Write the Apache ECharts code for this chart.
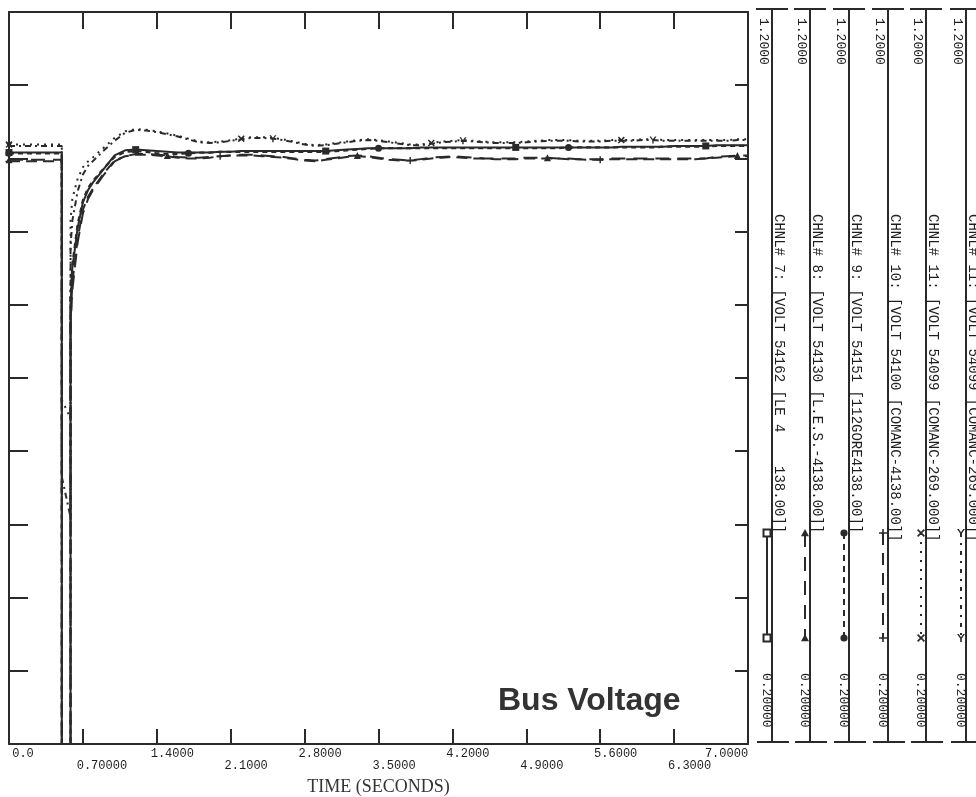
<!DOCTYPE html>
<html><head><meta charset="utf-8">
<script src="https://cdn.jsdelivr.net/npm/echarts/dist/echarts.min.js"></script>
<style>html,body{margin:0;padding:0;background:#fff;}#c{width:976px;height:797px;}</style>
</head><body><div id="c"></div>
<script>
// ---------------- DATA ----------------
const time = [0, 0.5, 0.5, 0.583, 0.583, 0.6, 0.65, 0.7, 0.75, 0.8, 0.9,
  1.0,1.1,1.2,1.3,1.4,1.5,1.6,1.7,1.8,1.9,
  2.0,2.1,2.2,2.3,2.4,2.5,2.6,2.7,2.8,2.9,
  3.0,3.1,3.2,3.3,3.4,3.5,3.6,3.7,3.8,3.9,
  4.0,4.1,4.2,4.3,4.4,4.5,4.6,4.7,4.8,4.9,
  5.0,5.1,5.2,5.3,5.4,5.5,5.6,5.7,5.8,5.9,
  6.0,6.1,6.2,6.3,6.4,6.5,6.6,6.7,6.8,6.9,
  7.0];

const ch7 = [1.008,1.008,0.05,0.05,0.80,0.85,0.905,0.94,0.957,0.968,0.986,
  1.004,1.011,1.012,1.011,1.010,1.009,1.008,1.008,1.008,1.008,
  1.009,1.009,1.010,1.010,1.010,1.010,1.010,1.010,1.010,1.010,
  1.010,1.011,1.012,1.013,1.014,1.014,1.014,1.014,1.014,1.015,
  1.015,1.015,1.015,1.015,1.015,1.015,1.015,1.015,1.015,1.015,
  1.015,1.015,1.015,1.015,1.015,1.015,1.015,1.015,1.016,1.016,
  1.016,1.016,1.016,1.017,1.017,1.017,1.017,1.018,1.018,1.018,
  1.018];

const ch8 = [0.998,0.998,0.05,0.05,0.77,0.82,0.885,0.925,0.945,0.958,0.978,
  0.996,1.003,1.006,1.006,1.005,1.004,1.002,1.001,1.001,1.002,
  1.003,1.004,1.005,1.005,1.004,1.003,1.002,1.000,0.998,0.997,
  0.999,1.001,1.003,1.004,1.003,1.001,0.999,0.998,0.997,0.999,
  1.001,1.002,1.003,1.002,1.001,1.000,1.000,1.000,1.000,1.001,
  1.001,1.001,1.000,1.000,0.999,0.999,0.999,1.000,1.000,1.000,
  1.000,1.000,1.000,1.000,1.000,1.000,1.000,1.002,1.003,1.004,
  1.004];

const ch9 = [1.007,1.007,0.05,0.05,0.81,0.855,0.91,0.943,0.96,0.97,0.987,
  1.002,1.009,1.010,1.009,1.007,1.006,1.006,1.007,1.008,1.008,
  1.009,1.009,1.009,1.009,1.009,1.009,1.009,1.009,1.009,1.009,
  1.009,1.010,1.011,1.012,1.013,1.014,1.014,1.014,1.014,1.014,
  1.014,1.014,1.014,1.014,1.014,1.014,1.014,1.014,1.014,1.014,
  1.014,1.014,1.014,1.015,1.015,1.015,1.015,1.015,1.015,1.015,
  1.015,1.015,1.016,1.016,1.016,1.016,1.016,1.017,1.017,1.017,
  1.017];

const ch10 = [0.996,0.996,0.05,0.05,0.78,0.83,0.89,0.93,0.948,0.96,0.98,
  0.997,1.003,1.005,1.005,1.004,1.003,1.001,1.000,1.000,1.001,
  1.003,1.004,1.004,1.004,1.003,1.002,1.001,0.999,0.997,0.996,
  0.998,1.000,1.002,1.003,1.002,1.000,0.998,0.997,0.997,0.998,
  1.000,1.001,1.002,1.001,1.000,1.000,0.999,0.999,0.999,1.000,
  1.000,1.000,1.000,0.999,0.999,0.998,0.998,0.999,0.999,0.999,
  0.999,0.999,0.999,0.999,0.999,0.999,1.000,1.001,1.002,1.003,
  1.003];

const ch11 = [1.019,1.019,0.670,0.645,0.915,0.945,0.972,0.988,0.996,1.002,1.015,
  1.028,1.037,1.040,1.039,1.037,1.034,1.031,1.027,1.023,1.022,
  1.023,1.025,1.027,1.029,1.029,1.028,1.026,1.023,1.020,1.018,
  1.019,1.021,1.023,1.025,1.026,1.025,1.023,1.021,1.019,1.019,
  1.021,1.023,1.024,1.025,1.024,1.023,1.022,1.022,1.022,1.023,
  1.024,1.025,1.025,1.025,1.024,1.024,1.024,1.025,1.025,1.025,
  1.026,1.026,1.025,1.025,1.025,1.025,1.025,1.025,1.025,1.026,
  1.026];

const ch12 = [1.017,1.017,0.565,0.510,0.880,0.915,0.955,0.978,0.990,0.997,1.011,
  1.024,1.035,1.039,1.038,1.036,1.033,1.030,1.026,1.022,1.021,
  1.022,1.024,1.026,1.028,1.028,1.027,1.025,1.022,1.019,1.017,
  1.018,1.020,1.022,1.024,1.025,1.024,1.022,1.020,1.018,1.018,
  1.020,1.022,1.023,1.024,1.023,1.022,1.021,1.021,1.021,1.022,
  1.023,1.024,1.024,1.024,1.023,1.023,1.023,1.024,1.024,1.024,
  1.025,1.025,1.024,1.024,1.024,1.024,1.024,1.024,1.024,1.025,
  1.025];

// times at which each channel's plot marker is drawn
const marks7  = [0, 1.2, 3.0, 4.8, 6.6];
const marks8  = [0, 1.5, 3.3, 5.1, 6.9];
const marks9  = [0, 1.7, 3.5, 5.3];
const marks10 = [0, 2.0, 3.8, 5.6];
const marks11 = [0, 2.2, 4.0, 5.8];
const marks12 = [0, 2.5, 4.3, 6.1];

const channelLabels = [
  'CHNL# 7: [VOLT 54162 [LE 4    138.00]]',
  'CHNL# 8: [VOLT 54130 [L.E.S.-4138.00]]',
  'CHNL# 9: [VOLT 54151 [112GORE4138.00]]',
  'CHNL# 10: [VOLT 54100 [COMANC-4138.00]]',
  'CHNL# 11: [VOLT 54099 [COMANC-269.000]]',
  'CHNL# 11: [VOLT 54099 [COMANC-269.000]]'
];
const xTickLabels = ['0.0','0.70000','1.4000','2.1000','2.8000','3.5000','4.2000','4.9000','5.6000','6.3000','7.0000'];
const panelTop = '1.2000';
const panelBottom = '0.20000';
const xName = 'TIME (SECONDS)';
const chartTitle = 'Bus Voltage';

// ---------------- STYLE ----------------
const C = '#2a2a2a';
const PLUS_PTS  = [[4,0],[6,0],[6,4],[10,4],[10,6],[6,6],[6,10],[4,10],[4,6],[0,6],[0,4],[4,4]];
const CROSS_PTS = [[0,1.5],[1.5,0],[5,3.5],[8.5,0],[10,1.5],[6.5,5],[10,8.5],[8.5,10],[5,6.5],[1.5,10],[0,8.5],[3.5,5]];
const Y_PTS     = [[0,0],[2.2,0],[5,4],[7.8,0],[10,0],[6,5.6],[6,10],[4,10],[4,5.6]];
const TRI_PTS   = [[5,0],[10,9],[0,9]];
const toPath = pts => 'path://M' + pts.map(p => p.join(',')).join(' L') + ' Z';

const defs = [
  {vals: ch7,  marks: marks7,  sym: 'rect',     pts: null,      dash: 'solid',        legDash: null,         width: 2},
  {vals: ch8,  marks: marks8,  sym: 'triangle', pts: TRI_PTS,   dash: [14, 8],        legDash: [14, 10],     width: 2},
  {vals: ch9,  marks: marks9,  sym: 'circle',   pts: null,      dash: [5, 4],         legDash: [6, 5],       width: 2.2},
  {vals: ch10, marks: marks10, sym: toPath(PLUS_PTS),  pts: PLUS_PTS,  dash: [11, 6], legDash: [12, 8],      width: 2},
  {vals: ch11, marks: marks11, sym: toPath(CROSS_PTS), pts: CROSS_PTS, dash: [2, 5],  legDash: [2, 7],       width: 2},
  {vals: ch12, marks: marks12, sym: toPath(Y_PTS),     pts: Y_PTS,     dash: [6, 4, 2, 4], legDash: [4, 6, 2, 6], width: 2}
];

const series = defs.map((d, k) => ({
  type: 'line',
  xAxisIndex: 0, yAxisIndex: 0,
  symbol: d.sym,
  symbolSize: 7,
  showSymbol: true,
  showAllSymbol: true,
  clip: true,
  animation: false,
  silent: true,
  z: 3 + k,
  lineStyle: {color: C, width: d.width, type: d.dash},
  itemStyle: {color: C, borderWidth: 0},
  data: time.map((t, i) => ({
    value: [t, d.vals[i]],
    symbol: (i === 0 || (i > 10 && d.marks.some(m => Math.abs(m - t) < 1e-6))) ? d.sym : 'none'
  }))
}));

// ---------------- SIDE PANELS (channel legend) ----------------
const panelX = [772, 810, 849, 888, 926, 966];
const FONT_LBL = '14px "Liberation Mono"';
const FONT_NUM = '13px "Liberation Mono"';
const graphic = [];
function rtext(x, y, txt, font) {
  graphic.push({type: 'text', x: x, y: y, rotation: -Math.PI / 2, silent: true,
    style: {text: txt, font: font, fill: '#1e1e1e', textAlign: 'left', align: 'left',
            textVerticalAlign: 'middle', verticalAlign: 'middle'}});
}
function marker(d, cx, cy) {
  const s = {fill: C};
  if (d.sym === 'rect') graphic.push({type: 'rect', shape: {x: cx - 3.5, y: cy - 3.5, width: 7, height: 7}, style: {fill: '#fff', stroke: C, lineWidth: 2}});
  else if (d.sym === 'circle') graphic.push({type: 'circle', shape: {cx: cx, cy: cy, r: 3.6}, style: s});
  else graphic.push({type: 'polygon', shape: {points: d.pts.map(p => [cx - 4 + p[0] * 0.8, cy - 4 + p[1] * 0.8])}, style: s});
}
panelX.forEach((ax, i) => {
  const d = defs[i];
  graphic.push({type: 'line', shape: {x1: ax, y1: 9, x2: ax, y2: 742}, style: {stroke: C, lineWidth: 2}});
  graphic.push({type: 'line', shape: {x1: ax - 16, y1: 9, x2: ax + 16, y2: 9}, style: {stroke: C, lineWidth: 2}});
  graphic.push({type: 'line', shape: {x1: ax - 15, y1: 742, x2: ax + 17, y2: 742}, style: {stroke: C, lineWidth: 2}});
  rtext(ax - 9, 18, panelTop, FONT_NUM);
  rtext(ax - 6, 673, panelBottom, FONT_NUM);
  rtext(ax + 7, 214, channelLabels[i], FONT_LBL);
  const ls = {stroke: C, lineWidth: 2};
  if (d.legDash) ls.lineDash = d.legDash;
  graphic.push({type: 'line', shape: {x1: ax - 5, y1: 533, x2: ax - 5, y2: 638}, style: ls});
  marker(d, ax - 5, 533);
  marker(d, ax - 5, 638);
});

// ---------------- CHART ----------------
const base = {fontFamily: 'Liberation Mono', fontSize: 12, color: '#1e1e1e'};
const option = {
  backgroundColor: '#fff',
  animation: false,
  title: {text: chartTitle, left: 493, top: 680,
    textStyle: {fontFamily: 'Liberation Sans', fontWeight: 'bold', fontSize: 32, color: '#333'}},
  grid: {left: 9, top: 12, width: 739, height: 732, containLabel: false, outerBoundsMode: 'none'},
  xAxis: [{
    type: 'value', min: 0, max: 7, interval: 0.7, position: 'bottom',
    axisLine: {show: true, onZero: false, lineStyle: {color: C, width: 2}},
    axisTick: {show: true, inside: true, length: 15, lineStyle: {color: C, width: 2}},
    splitLine: {show: false},
    axisLabel: {
      show: true, margin: 4, interval: 0, showMinLabel: true, showMaxLabel: true, hideOverlap: false,
      formatter: (v) => {
        const i = Math.round(v / 0.7);
        const s = xTickLabels[i];
        if (i === 0) return '{z|' + s + '}';
        if (i === xTickLabels.length - 1) return '{e|' + s + '}';
        if (i % 2 === 0) return '{a|' + s + '}';
        return (s.length > 6 ? '{c|' : '{b|') + s + '}';
      },
      rich: {
        z: Object.assign({}, base, {padding: [0, 0, 0, 28]}),
        a: Object.assign({}, base, {padding: [0, 0, 0, 31]}),
        b: Object.assign({}, base, {padding: [12, 0, 0, 31]}),
        c: Object.assign({}, base, {padding: [12, 0, 0, 38]}),
        e: Object.assign({}, base, {padding: [0, 43, 0, 0]})
      }
    },
    name: xName, nameLocation: 'middle', nameGap: 34,
    nameTextStyle: {fontFamily: 'Liberation Serif', fontSize: 18, color: '#333'}
  }, {
    type: 'value', min: 0, max: 7, interval: 0.7, position: 'top',
    axisLine: {show: true, onZero: false, lineStyle: {color: C, width: 2}},
    axisTick: {show: true, inside: true, length: 17, lineStyle: {color: C, width: 2}},
    axisLabel: {show: false}, splitLine: {show: false}
  }],
  yAxis: [{
    type: 'value', min: 0.2, max: 1.2, interval: 0.1, position: 'left',
    axisLine: {show: true, onZero: false, lineStyle: {color: C, width: 2}},
    axisTick: {show: true, inside: true, length: 19, lineStyle: {color: C, width: 2}},
    axisLabel: {show: false}, splitLine: {show: false}
  }, {
    type: 'value', min: 0.2, max: 1.2, interval: 0.1, position: 'right',
    axisLine: {show: true, onZero: false, lineStyle: {color: C, width: 2}},
    axisTick: {show: true, inside: true, length: 13, lineStyle: {color: C, width: 2}},
    axisLabel: {show: false}, splitLine: {show: false}
  }],
  series: series,
  graphic: graphic
};
const chart = echarts.init(document.getElementById('c'), null, {renderer: 'canvas'});
chart.setOption(option);
</script>
</body></html>
